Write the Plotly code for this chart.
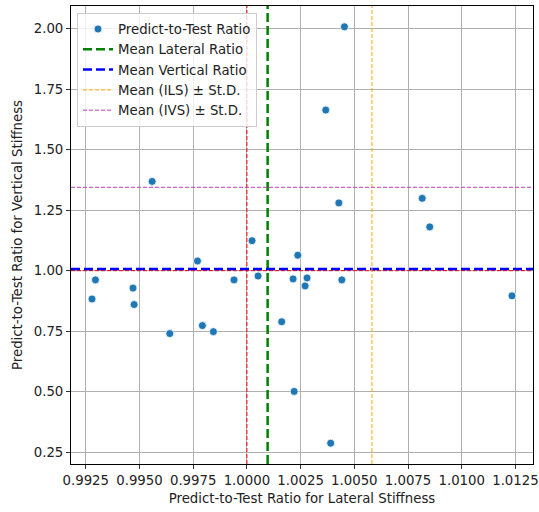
import numpy as np
import plotly.graph_objects as go

# Predict-to-test ratios for each specimen
lateral_ratio = [
    1.00454, 1.00367, 0.99559, 1.00428, 1.00816, 1.00851, 1.00024,
    1.00237, 0.99770, 0.99295, 0.99279, 0.99470, 0.99475, 0.99641,
    0.99793, 0.99844, 0.99940, 1.00052, 1.00162, 1.00215, 1.00220,
    1.00271, 1.00280, 1.00442, 1.00390, 1.01234,
]
vertical_ratio = [
    2.008, 1.664, 1.369, 1.280, 1.299, 1.181, 1.124,
    1.064, 1.040, 0.962, 0.883, 0.928, 0.860, 0.740,
    0.773, 0.748, 0.962, 0.978, 0.789, 0.966, 0.501,
    0.937, 0.970, 0.962, 0.287, 0.896,
]

x_tick_vals = [0.9925, 0.9950, 0.9975, 1.0000, 1.0025, 1.0050, 1.0075, 1.0100, 1.0125]
x_tick_text = ["0.9925", "0.9950", "0.9975", "1.0000", "1.0025", "1.0050", "1.0075", "1.0100", "1.0125"]
y_tick_vals = [0.25, 0.50, 0.75, 1.00, 1.25, 1.50, 1.75, 2.00]
y_tick_text = ["0.25", "0.50", "0.75", "1.00", "1.25", "1.50", "1.75", "2.00"]

# Summary statistics
mean_lat = float(np.mean(lateral_ratio))
mean_vert = float(np.mean(vertical_ratio))
std_lat = float(np.std(lateral_ratio, ddof=1))
std_vert = float(np.std(vertical_ratio, ddof=1))

# Axis limits with 5% padding around the data
def padded(vals, frac=0.05):
    lo, hi = min(vals), max(vals)
    pad = (hi - lo) * frac
    return [lo - pad, hi + pad]

x_range = padded(lateral_ratio)
y_range = padded(vertical_ratio)

FONT = "DejaVu Sans, Verdana, sans-serif"
FS = 13.3
TXT = "#222"

fig = go.Figure()

fig.add_trace(go.Scatter(
    x=lateral_ratio, y=vertical_ratio, mode="markers",
    name="Predict-to-Test Ratio",
    marker=dict(color="#1f77b4", size=8, line=dict(color="white", width=0.8)),
))


def vline(x, color, width, dash, name=None, opacity=1.0):
    fig.add_trace(go.Scatter(
        x=[x, x], y=y_range, mode="lines", name=name,
        showlegend=name is not None, opacity=opacity,
        line=dict(color=color, width=width, dash=dash),
        hoverinfo="skip",
    ))


def hline(y, color, width, dash, name=None, opacity=1.0):
    fig.add_trace(go.Scatter(
        x=x_range, y=[y, y], mode="lines", name=name,
        showlegend=name is not None, opacity=opacity,
        line=dict(color=color, width=width, dash=dash),
        hoverinfo="skip",
    ))


# Unity reference lines
vline(1.0, "red", 1, "4px,2px")
hline(1.0, "red", 1, "4px,2px")

# Means and mean + one standard deviation
vline(mean_lat, "green", 2.5, "9px,4px", "Mean Lateral Ratio")
hline(mean_vert, "blue", 2.5, "9px,4px", "Mean Vertical Ratio")
vline(mean_lat + std_lat, "orange", 1, "4px,2px", "Mean (ILS) ± St.D.")
hline(mean_vert + std_vert, "#bf3fbf", 1, "4px,2px", "Mean (IVS) ± St.D.")

axis_common = dict(
    showline=True, linecolor="black", linewidth=1, mirror=True,
    ticks="outside", ticklen=4, tickwidth=1, tickcolor="#333",
    showgrid=True, gridcolor="#b0b0b0", gridwidth=0.8,
    zeroline=False, automargin=False,
    tickfont=dict(family=FONT, size=FS, color=TXT),
)

fig.update_xaxes(
    range=x_range, tickvals=x_tick_vals, ticktext=x_tick_text,
    title=dict(text="Predict-to-Test Ratio for Lateral Stiffness",
               font=dict(family=FONT, size=FS, color=TXT), standoff=6),
    **axis_common,
)
fig.update_yaxes(
    range=y_range, tickvals=y_tick_vals, ticktext=y_tick_text,
    title=dict(text="Predict-to-Test Ratio for Vertical Stiffness",
               font=dict(family=FONT, size=FS, color=TXT), standoff=8),
    **axis_common,
)

fig.update_layout(
    width=539, height=512,
    margin=dict(l=71, r=6, t=6, b=48),
    plot_bgcolor="white", paper_bgcolor="white",
    font=dict(family=FONT, size=FS, color=TXT),
    legend=dict(
        x=0.013, y=0.985, xanchor="left", yanchor="top",
        bgcolor="rgba(255,255,255,0.8)", bordercolor="#cccccc", borderwidth=1,
        font=dict(family=FONT, size=FS, color=TXT),
        tracegroupgap=0,
    ),
    showlegend=True,
)

fig.write_html("out.html")
